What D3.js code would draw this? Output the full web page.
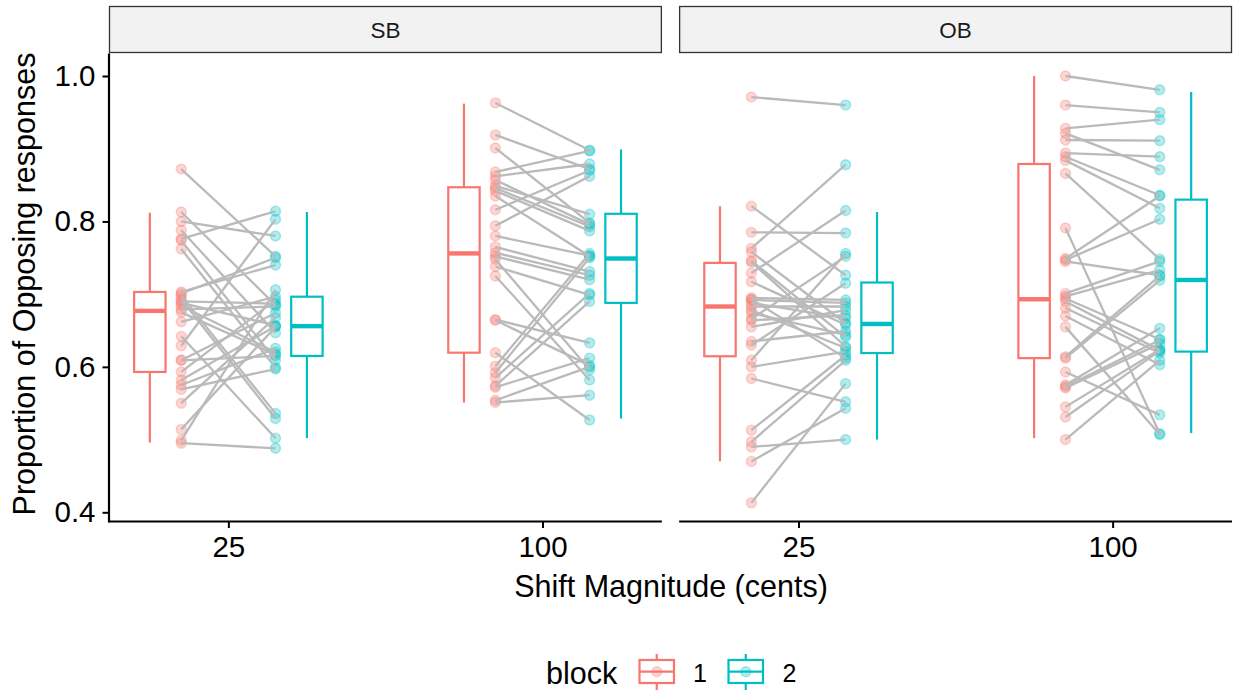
<!DOCTYPE html>
<html>
<head>
<meta charset="utf-8">
<script src="https://cdn.jsdelivr.net/npm/d3@7"></script>
<style>
  html, body { margin: 0; padding: 0; background: #fff; }
  svg { display: block; font-family: "Liberation Sans", Arial, Helvetica, sans-serif; }
</style>
</head>
<body>
<svg id="chart" width="1233" height="692"></svg>
<script>
// ---------------- data ----------------
const facets = ["SB", "OB"];
const shifts = ["25", "100"];
const blocks = ["1", "2"];
const yTicks = [0.4, 0.6, 0.8, 1.0];
const blockColors = ["#F8766D", "#00BFC4"];

// paired proportions per participant (block 1 -> block 2)
const sb25_block1 = [0.872, 0.813, 0.800, 0.788, 0.776, 0.774, 0.762, 0.703, 0.701, 0.698, 0.693, 0.690, 0.688, 0.684, 0.679, 0.675, 0.662, 0.642, 0.629, 0.609, 0.609, 0.593, 0.582, 0.575, 0.569, 0.550, 0.514, 0.499, 0.495];
const sb25_block2 = [0.752, 0.685, 0.780, 0.647, 0.814, 0.609, 0.599, 0.740, 0.750, 0.536, 0.529, 0.687, 0.657, 0.620, 0.683, 0.617, 0.6965, 0.502, 0.803, 0.674, 0.615, 0.692, 0.656, 0.6255, 0.597, 0.668, 0.655, 0.706, 0.488];

const sb100_block1 = [0.963, 0.919, 0.901, 0.868, 0.862, 0.857, 0.849, 0.846, 0.842, 0.835, 0.816, 0.794, 0.780, 0.765, 0.757, 0.752, 0.748, 0.738, 0.725, 0.665, 0.664, 0.6195, 0.601, 0.592, 0.585, 0.574, 0.572, 0.554, 0.551];
const sb100_block2 = [0.898, 0.872, 0.798, 0.897, 0.879, 0.796, 0.810, 0.793, 0.787, 0.752, 0.870, 0.862, 0.753, 0.731, 0.726, 0.720, 0.596, 0.699, 0.582, 0.633, 0.602, 0.527, 0.756, 0.750, 0.701, 0.690, 0.612, 0.600, 0.561];

const ob25_block1 = [0.971, 0.821, 0.785, 0.763, 0.758, 0.746, 0.744, 0.729, 0.717, 0.695, 0.693, 0.692, 0.688, 0.683, 0.678, 0.674, 0.666, 0.664, 0.655, 0.635, 0.630, 0.609, 0.600, 0.584, 0.513, 0.497, 0.490, 0.470, 0.413];
const ob25_block2 = [0.960, 0.726, 0.784, 0.878, 0.660, 0.641, 0.628, 0.815, 0.658, 0.692, 0.612, 0.688, 0.667, 0.683, 0.626, 0.644, 0.752, 0.671, 0.678, 0.649, 0.715, 0.756, 0.621, 0.552, 0.616, 0.609, 0.500, 0.543, 0.577];

const ob100_block1 = [1.000, 0.960, 0.928, 0.921, 0.912, 0.894, 0.889, 0.884, 0.866, 0.791, 0.749, 0.747, 0.745, 0.701, 0.697, 0.694, 0.690, 0.681, 0.670, 0.655, 0.614, 0.612, 0.593, 0.575, 0.573, 0.571, 0.545, 0.531, 0.500];
const ob100_block2 = [0.981, 0.950, 0.940, 0.871, 0.911, 0.889, 0.836, 0.818, 0.748, 0.508, 0.835, 0.803, 0.726, 0.745, 0.733, 0.638, 0.623, 0.619, 0.603, 0.507, 0.725, 0.719, 0.534, 0.653, 0.637, 0.632, 0.624, 0.622, 0.609];

// boxplot summaries: [lower whisker, Q1, median, Q3, upper whisker]
const sb25_box1 = [0.496, 0.593, 0.677, 0.703, 0.812];
const sb25_box2 = [0.502, 0.615, 0.656, 0.6965, 0.813];
const sb100_box1 = [0.551, 0.6195, 0.756, 0.847, 0.962];
const sb100_box2 = [0.529, 0.688, 0.749, 0.8105, 0.899];
const ob25_box1 = [0.470, 0.6146, 0.683, 0.743, 0.821];
const ob25_box2 = [0.500, 0.619, 0.659, 0.716, 0.813];
const ob100_box1 = [0.502, 0.612, 0.693, 0.879, 1.000];
const ob100_box2 = [0.509, 0.621, 0.7195, 0.830, 0.978];

const groups = [
  { facet: "SB", shift: "25",  b1: sb25_block1,  b2: sb25_block2,  box: [sb25_box1, sb25_box2] },
  { facet: "SB", shift: "100", b1: sb100_block1, b2: sb100_block2, box: [sb100_box1, sb100_box2] },
  { facet: "OB", shift: "25",  b1: ob25_block1,  b2: ob25_block2,  box: [ob25_box1, ob25_box2] },
  { facet: "OB", shift: "100", b1: ob100_block1, b2: ob100_block2, box: [ob100_box1, ob100_box2] }
];

// ---------------- layout ----------------
const svg = d3.select("#chart");
const panelTop = 53.5, panelBottom = 522.5;
const stripTop = 6.5, stripH = 46;
const panelX = d3.scaleBand().domain(facets).range([109, 1232]).paddingInner(0.0303);
const y = d3.scaleLinear().domain([0.4, 1.0]).range([512.3, 76]);

const boxOffset = 0.25, pointOffset = 0.15, boxWidth = 0.1;

facets.forEach((f, fi) => {
  const px0 = panelX(f), pw = panelX.bandwidth();
  const g = svg.append("g").attr("transform", `translate(${px0},0)`);
  const x = d3.scalePoint().domain(shifts).range([0, pw]).padding(0.38);
  const step = x.step();

  // strip
  g.append("rect").attr("x", 0.5).attr("y", stripTop).attr("width", pw - 1).attr("height", stripH)
    .attr("fill", "#F2F2F2").attr("stroke", "#333333").attr("stroke-width", 1.3);
  g.append("text").attr("x", pw / 2).attr("y", stripTop + stripH / 2 + 8)
    .attr("text-anchor", "middle").attr("font-size", 22.5).attr("fill", "#1a1a1a").text(f);

  // x axis
  const xAxis = d3.axisBottom(x).tickSize(6.5).tickPadding(8);
  const xa = g.append("g").attr("transform", `translate(0,${panelBottom - 1})`).call(xAxis);
  xa.select(".domain").attr("stroke", "#000").attr("stroke-width", 2.2).attr("d", `M0,0H${pw}`);
  xa.selectAll(".tick line").attr("stroke", "#000").attr("stroke-width", 2);
  xa.selectAll(".tick text").attr("font-size", 29.5).attr("fill", "#000").attr("font-family", "Liberation Sans, Arial, sans-serif");

  // y axis only on first panel
  if (fi === 0) {
    const yAxis = d3.axisLeft(y).tickValues(yTicks).tickFormat(d3.format(".1f")).tickSize(6.5).tickPadding(7);
    const ya = g.append("g").attr("transform", "translate(0,0)").call(yAxis);
    ya.select(".domain").attr("stroke", "#000").attr("stroke-width", 2.2).attr("d", `M0,${panelTop}V${panelBottom}`);
    ya.selectAll(".tick line").attr("stroke", "#000").attr("stroke-width", 2);
    ya.selectAll(".tick text").attr("font-size", 29.5).attr("fill", "#000").attr("font-family", "Liberation Sans, Arial, sans-serif");
  }

  const pg = groups.filter(d => d.facet === f);

  // boxplots
  pg.forEach(d => {
    const cx0 = x(d.shift);
    d.box.forEach((s, bi) => {
      const cx = cx0 + (bi === 0 ? -1 : 1) * boxOffset * step;
      const w = boxWidth * step;
      const col = blockColors[bi];
      const bg = g.append("g");
      bg.append("line").attr("x1", cx).attr("x2", cx).attr("y1", y(s[4])).attr("y2", y(s[3]))
        .attr("stroke", col).attr("stroke-width", 2.2);
      bg.append("line").attr("x1", cx).attr("x2", cx).attr("y1", y(s[1])).attr("y2", y(s[0]))
        .attr("stroke", col).attr("stroke-width", 2.2);
      bg.append("rect").attr("x", cx - w / 2).attr("y", y(s[3])).attr("width", w).attr("height", y(s[1]) - y(s[3]))
        .attr("fill", "#fff").attr("stroke", col).attr("stroke-width", 2.2);
      bg.append("line").attr("x1", cx - w / 2).attr("x2", cx + w / 2).attr("y1", y(s[2])).attr("y2", y(s[2]))
        .attr("stroke", col).attr("stroke-width", 4.4);
    });
  });

  // points
  pg.forEach(d => {
    const cx0 = x(d.shift);
    [d.b1, d.b2].forEach((vals, bi) => {
      const cx = cx0 + (bi === 0 ? -1 : 1) * pointOffset * step;
      g.append("g").selectAll("circle").data(vals).join("circle")
        .attr("cx", cx).attr("cy", v => y(v)).attr("r", 5)
        .attr("fill", blockColors[bi]).attr("fill-opacity", 0.3)
        .attr("stroke", blockColors[bi]).attr("stroke-opacity", 0.3).attr("stroke-width", 1.4);
    });
  });

  // paired lines
  pg.forEach(d => {
    const cx0 = x(d.shift);
    const xa1 = cx0 - pointOffset * step, xa2 = cx0 + pointOffset * step;
    g.append("g").selectAll("line").data(d3.range(d.b1.length)).join("line")
      .attr("x1", xa1).attr("x2", xa2)
      .attr("y1", i => y(d.b1[i])).attr("y2", i => y(d.b2[i]))
      .attr("stroke", "#bababa").attr("stroke-width", 2.3);
  });
});

// axis titles
svg.append("text").attr("x", 671).attr("y", 597).attr("text-anchor", "middle")
  .attr("font-size", 30.5).attr("fill", "#000").text("Shift Magnitude (cents)");
svg.append("text").attr("transform", "translate(35,284) rotate(-90)").attr("text-anchor", "middle")
  .attr("font-size", 30.5).attr("fill", "#000").text("Proportion of Opposing responses");

// legend
const leg = svg.append("g");
leg.append("text").attr("x", 546).attr("y", 684).attr("font-size", 30.5).attr("fill", "#000").text("block");
const keyX = [639.5, 728.5], labX = [700, 789.5];
blocks.forEach((b, i) => {
  const col = blockColors[i];
  const kx = keyX[i], kw = 34.5, cx = kx + kw / 2;
  leg.append("line").attr("x1", cx).attr("x2", cx).attr("y1", 654).attr("y2", 690).attr("stroke", col).attr("stroke-width", 2.2);
  leg.append("rect").attr("x", kx).attr("y", 660).attr("width", kw).attr("height", 23)
    .attr("fill", "#fff").attr("stroke", col).attr("stroke-width", 2.2);
  leg.append("line").attr("x1", kx).attr("x2", kx + kw).attr("y1", 671.7).attr("y2", 671.7).attr("stroke", col).attr("stroke-width", 2.2);
  leg.append("circle").attr("cx", cx).attr("cy", 671.7).attr("r", 5)
    .attr("fill", col).attr("fill-opacity", 0.3).attr("stroke", col).attr("stroke-opacity", 0.3).attr("stroke-width", 1.4);
  leg.append("text").attr("x", labX[i]).attr("y", 682).attr("text-anchor", "middle")
    .attr("font-size", 25).attr("fill", "#000").text(b);
});
</script>
</body>
</html>
